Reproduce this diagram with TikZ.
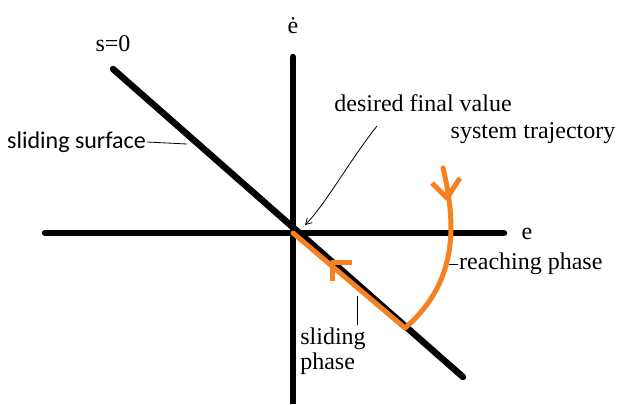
\documentclass[tikz,border=0pt]{standalone}
\usepackage{fontspec}
\setmainfont{Liberation Serif}
\newfontfamily\seriffont{Liberation Serif}
\newfontfamily\labelsans{Carlito}
\usetikzlibrary{positioning,arrows.meta,calc}
\definecolor{trajorange}{RGB}{247,128,32}
\tikzset{
  axisline/.style={line width=6.5pt, line cap=round},
  trajline/.style={trajorange, line width=5pt, line cap=round, line join=round},
  leader/.style={line width=0.8pt},
  txt/.style={inner sep=1pt, font=\seriffont\fontsize{24}{26}\selectfont},
}
\begin{document}
\begin{tikzpicture}[x=1pt,y=1pt,yscale=-1]
\useasboundingbox (0,0) rectangle (623,404);

% Axes
\coordinate (origin) at (293,233);
\coordinate (eleft) at (45,233);
\coordinate (eright) at (504,233);
\coordinate (etop) at (293,57);
\coordinate (ebottom) at (293,404);
\draw [axisline] (eleft) -- (eright);
\draw [axisline, line cap=butt] (ebottom) -- (etop);
\draw [axisline, line cap=round] (293,300) -- (etop);

% Sliding surface s=0
\coordinate (stop) at (113,69);
\coordinate (sbottom) at (463,377);
\draw [axisline] (stop) -- (sbottom);

% Trajectory: sliding phase
\coordinate (reach) at (405,328);
\draw [trajline] (reach) -- (origin);
\draw [trajline, line cap=butt] (352,262) -- (332,262) -- (332,281);

% Trajectory: reaching phase
\coordinate (start) at (443,168);
\draw [trajline] (start) .. controls (458,230) and (455,285) .. (reach);
\draw [trajline, line cap=butt] (432,183) -- (447,198) -- (460,178);

% Text Node
\node [txt] (szero) at (113,44) {s=0};
% Text Node
\node [txt, inner sep=0pt] (edot) at (293,26) {\.e};
% Text Node
\node [txt] (eaxis) at (527,234) {e};
% Text Node
\node [txt, font=\labelsans\fontsize{24}{28}\selectfont, anchor=west] (surf) at (6,142) {sliding surface};
\coordinate (surfend) at (187,144);
\draw [leader] (surf.east) -- (surfend);
% Text Node
\node [txt] (desired) at (423,103) {desired final value};
\draw [leader, -{Straight Barb[length=6pt,width=7pt]}] (377,126) .. controls (350,160) and (325,205) .. (305,225);
% Text Node
\node [txt] (traj) at (533,133) {system trajectory};
% Text Node
\node [txt, anchor=west] (reachlbl) at (458,264) {reaching phase};
\coordinate (reachend) at (449,264);
\draw [leader] (reachlbl.west) -- (reachend);
% Text Node
\node [txt, align=left, font=\seriffont\fontsize{24}{25}\selectfont] (slidlbl) at (333,351) {sliding\\phase};
\coordinate (slidend) at (357,296);
\draw [leader] (357,325) -- (slidend);
\end{tikzpicture}
\end{document}
